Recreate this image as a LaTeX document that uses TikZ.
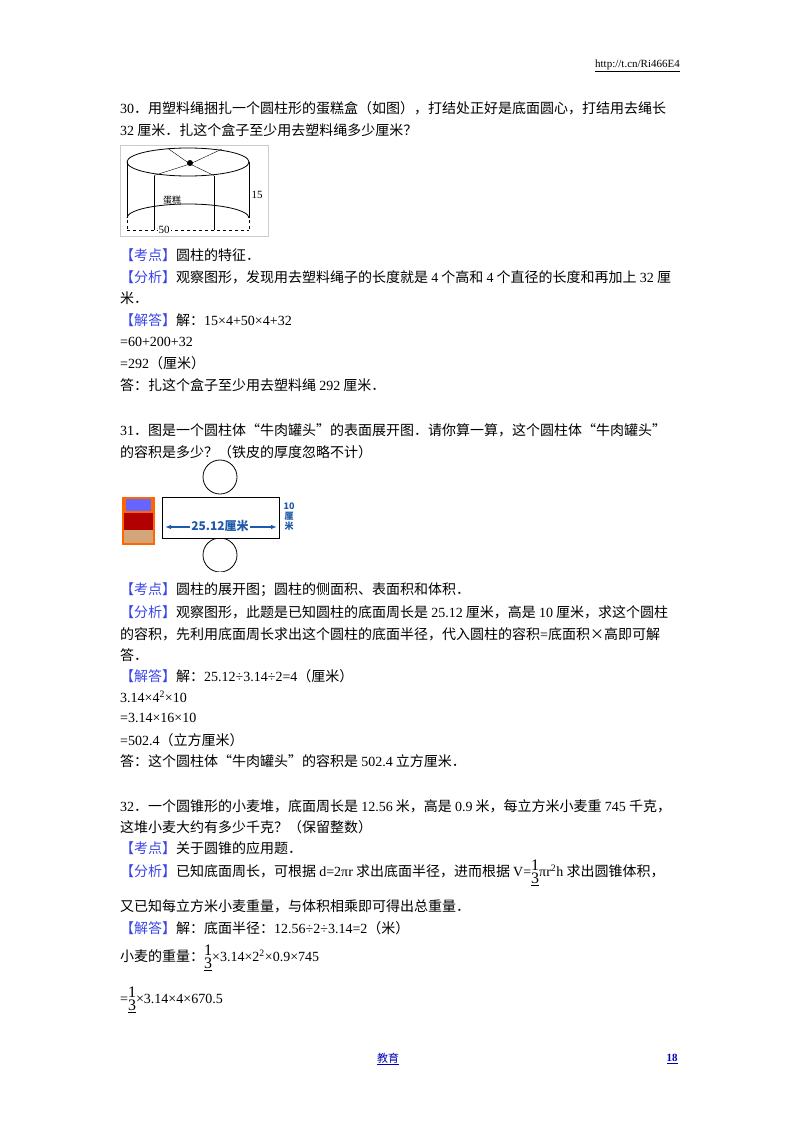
\documentclass[tikz,border=0pt]{standalone}
\usepackage{fontspec}
\setmainfont{Noto Sans CJK SC}
\newfontfamily\rom{Liberation Serif}
\usetikzlibrary{arrows.meta}
\definecolor{kblue}{RGB}{60,70,230}
\definecolor{fblue}{RGB}{30,90,170}
\newcommand{\thirdfr}{\raisebox{-7pt}{\rom\fontsize{16}{16}\selectfont\shortstack{1\\[-1pt]\underline{3}}}}
\begin{document}
\begin{tikzpicture}[x=1pt,y=-1pt,
  ln/.style={anchor=west,inner sep=0pt,font=\fontsize{14}{17}\selectfont},
  tg/.style={text=kblue}]
\useasboundingbox (0,0) rectangle (800,1132);
\fill[white] (0,0) rectangle (800,1132);
\node[anchor=east,inner sep=0pt,font=\rom\fontsize{11}{13}\selectfont] (url) at (680,66) {\underline{http://t.cn/Ri466E4}};
% Q30
\node[ln] (a1) at (120,108) {{\rom 30}．用塑料绳捆扎一个圆柱形的蛋糕盒（如图），打结处正好是底面圆心，打结用去绳长};
\node[ln] (a2) at (120,130) {{\rom 32} 厘米．扎这个盒子至少用去塑料绳多少厘米？};
% cake
\draw[gray!40] (120,145) rectangle (268,236);
\draw[thick] (188,162) ellipse (61 and 14);
\draw[thick] (127,162) -- (127,218) (249,162) -- (249,218);
\draw[thick] (127,218) arc[start angle=180,end angle=360,x radius=61,y radius=14];
\draw[thick] (154,175.5) -- (154,230) (214,175.5) -- (214,230);
\draw (190,164) -- (154,175.5) (190,164) -- (214,175.5) (190,164) -- (168,148.5) (190,164) -- (222,149);
\fill (190,163) circle (3);
\node[inner sep=0pt,font=\fontsize{9}{10}\selectfont] (cake) at (172,200) {蛋糕};
\node[inner sep=0pt,font=\rom\fontsize{11}{12}\selectfont] (h15) at (257,195) {15};
\draw[dashed] (127,220) -- (127,232) (249,220) -- (249,232);
\draw[dashed] (127,230) -- (249,230);
\node[fill=white,inner sep=1pt,font=\rom\fontsize{11}{12}\selectfont] (w50) at (164,230) {50};
\node[ln] (a3) at (120,255) {\textcolor{kblue}{【考点】}圆柱的特征．};
\node[ln] (a4) at (120,277) {\textcolor{kblue}{【分析】}观察图形，发现用去塑料绳子的长度就是 {\rom 4} 个高和 {\rom 4} 个直径的长度和再加上 {\rom 32} 厘};
\node[ln] (a5) at (120,298) {米．};
\node[ln] (a6) at (120,320) {\textcolor{kblue}{【解答】}解：{\rom 15×4+50×4+32}};
\node[ln] (a7) at (120,342) {\rom =60+200+32};
\node[ln] (a8) at (120,363) {{\rom =292}（厘米）};
\node[ln] (a9) at (120,385) {答：扎这个盒子至少用去塑料绳 {\rom 292} 厘米．};
% Q31
\node[ln] (b1) at (120,430) {{\rom 31}．图是一个圆柱体“牛肉罐头”的表面展开图．请你算一算，这个圆柱体“牛肉罐头”};
\node[ln] (b2) at (120,452) {的容积是多少？（铁皮的厚度忽略不计）};
\draw[thick] (220,477) circle (17);
\draw[thick] (162,497) rectangle (279,538);
\begin{scope}
\clip (150,538) rectangle (300,571);
\draw[thick] (220,555) circle (17);
\end{scope}
\draw[fblue,line width=1.6pt,{Latex[length=6pt]}-{Latex[length=6pt]}] (165,527) -- (277,527);
\node[fill=white,inner sep=1pt,text=fblue,font=\bfseries\fontsize{12}{13}\selectfont] (len) at (220,526) {25.12厘米};
\node[text=fblue,inner sep=0pt,align=center,font=\bfseries\fontsize{9}{10}\selectfont] (h10) at (289,517) {10\\厘\\米};
\fill[orange!80!red] (122,497) rectangle (155,545);
\fill[blue!60] (126,499) rectangle (151,511);
\fill[red!70!black] (124,513) rectangle (153,530);
\fill[brown!70] (124,530) rectangle (153,543);
% analysis
\node[ln] (b3) at (120,590) {\textcolor{kblue}{【考点】}圆柱的展开图；圆柱的侧面积、表面积和体积．};
\node[ln] (b4) at (120,612) {\textcolor{kblue}{【分析】}观察图形，此题是已知圆柱的底面周长是 {\rom 25.12} 厘米，高是 {\rom 10} 厘米，求这个圆柱};
\node[ln] (b5) at (120,634) {的容积，先利用底面周长求出这个圆柱的底面半径，代入圆柱的容积{\rom =}底面积×高即可解};
\node[ln] (b6) at (120,655) {答．};
\node[ln] (b7) at (120,676) {\textcolor{kblue}{【解答】}解：{\rom 25.12÷3.14÷2=4}（厘米）};
\node[ln] (b8) at (120,697) {\rom 3.14×4\textsuperscript{2}×10};
\node[ln] (b9) at (120,718) {\rom =3.14×16×10};
\node[ln] (b10) at (120,740) {{\rom =502.4}（立方厘米）};
\node[ln] (b11) at (120,761) {答：这个圆柱体“牛肉罐头”的容积是 {\rom 502.4} 立方厘米．};
% Q32
\node[ln] (c1) at (120,806) {{\rom 32}．一个圆锥形的小麦堆，底面周长是 {\rom 12.56} 米，高是 {\rom 0.9} 米，每立方米小麦重 {\rom 745} 千克，};
\node[ln] (c2) at (120,827) {这堆小麦大约有多少千克？（保留整数）};
\node[ln] (c3) at (120,848) {\textcolor{kblue}{【考点】}关于圆锥的应用题．};
\node[ln] (c4) at (120,873) {\textcolor{kblue}{【分析】}已知底面周长，可根据 {\rom d=2πr} 求出底面半径，进而根据 {\rom V=\thirdfr πr\textsuperscript{2}h} 求出圆锥体积，};
\node[ln] (c5) at (120,906) {又已知每立方米小麦重量，与体积相乘即可得出总重量．};
\node[ln] (c6) at (120,928) {\textcolor{kblue}{【解答】}解：底面半径：{\rom 12.56÷2÷3.14=2}（米）};
\node[ln] (c7) at (120,958) {小麦的重量：\thirdfr{\rom ×3.14×2\textsuperscript{2}×0.9×745}};
\node[ln] (c8) at (120,1000) {{\rom =}\thirdfr{\rom ×3.14×4×670.5}};
% footer
\node[inner sep=0pt,font=\fontsize{11}{13}\selectfont,text=blue!70!black] (ft) at (388,1059) {\underline{教育}};
\node[inner sep=0pt,font=\rom\bfseries\fontsize{11}{13}\selectfont,text=blue!70!black] (pg) at (672,1059) {\underline{18}};
\end{tikzpicture}
\end{document}
